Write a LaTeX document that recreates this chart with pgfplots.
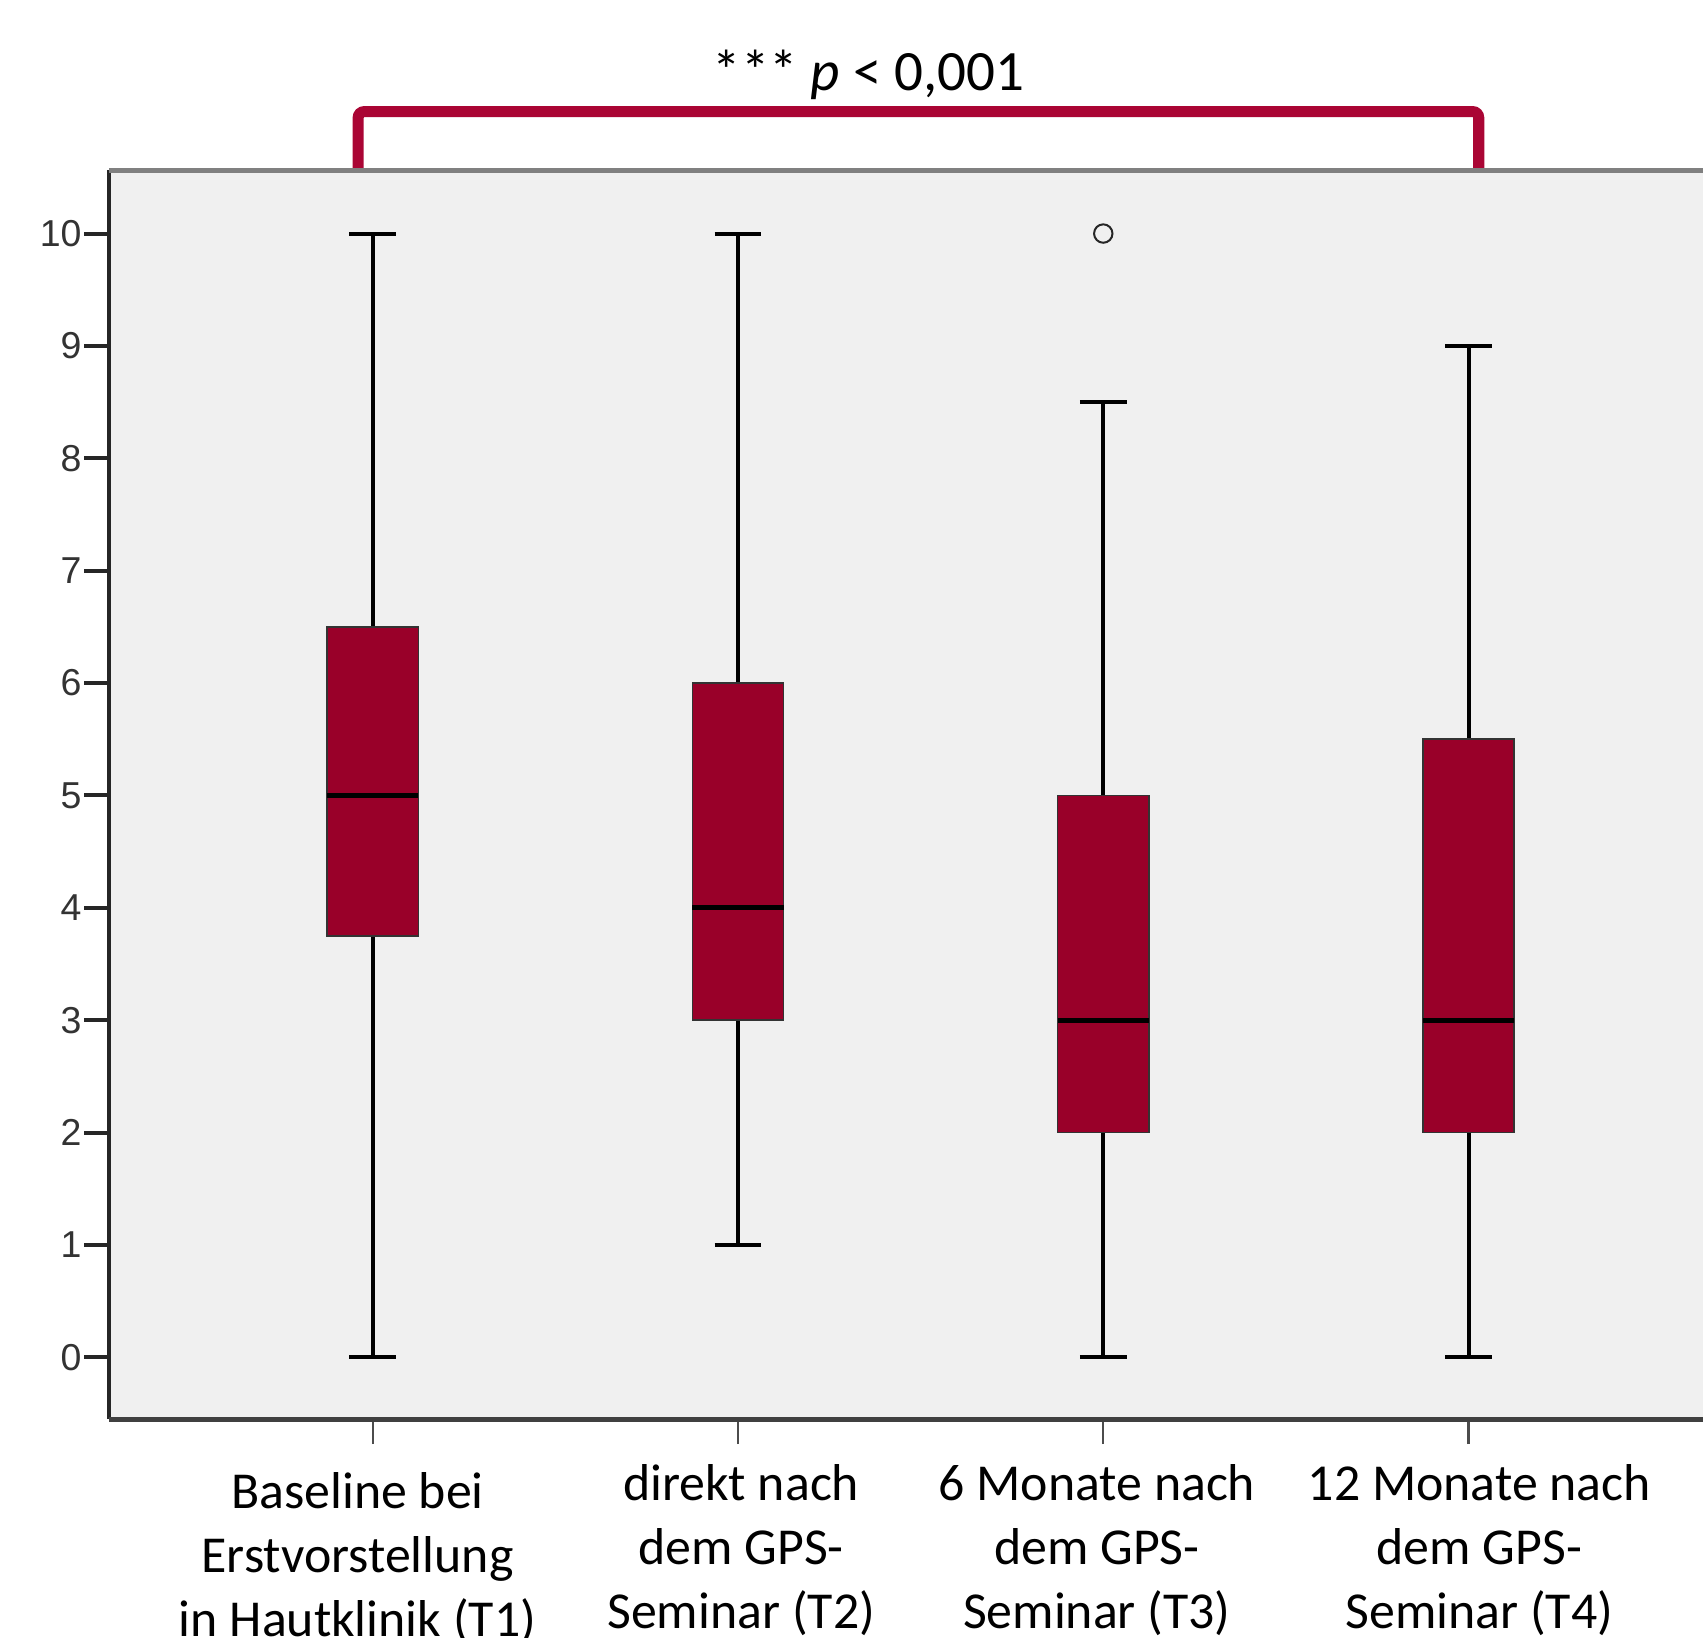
\documentclass[border=0pt]{standalone}
\usepackage{fontspec}
\setmainfont{Carlito}
\newfontfamily\arialf{Liberation Sans}
\usepackage{pgfplots}
\pgfplotsset{compat=1.18}
\usepgfplotslibrary{statistics}
\definecolor{boxred}{RGB}{153,0,41}
\definecolor{brk}{RGB}{170,5,52}
\definecolor{bgc}{RGB}{240,240,240}
\begin{document}
\begin{tikzpicture}
\begin{axis}[
  at={(0,0)}, anchor=south west,
  scale only axis,
  width=398.25bp, height=312bp,
  xmin=0.278, xmax=4.642,
  ymin=-0.551, ymax=10.561,
  clip=false,
  axis line style={draw=none},
  axis background/.style={fill=bgc},
  tick align=outside,
  tick pos=left,
  major tick length=6.2bp,
  ytick={0,1,...,10},
  xtick={1,2,3,4},
  xticklabels={{Baseline bei\\Erstvorstellung\\in Hautklinik (T1)},{direkt nach\\dem GPS-\\Seminar (T2)},{6 Monate nach\\dem GPS-\\Seminar (T3)},{12 Monate nach\\dem GPS-\\Seminar (T4)}},
  xticklabel style={align=center, font=\fontsize{13}{16}\selectfont, inner sep=0pt, anchor=north,
    yshift={-5.5bp-1.5bp*(\ticknum==0)+0.5bp*(\ticknum>0)},
    xshift={-3.8bp*(\ticknum==0)+0.8bp*(\ticknum==1)-1.6bp*(\ticknum==2)+2.7bp*(\ticknum==3)}},
  yticklabel style={font=\arialf\fontsize{9.4}{11}\selectfont, text=black!80, inner sep=0pt, anchor=east, xshift=-0.5bp},
  /pgf/number format/assume math mode=true,
  ytick style={line width=1bp, black!85},
  xtick style={line width=0.6bp, black!70},
  boxplot/draw direction=y,
  boxplot/box extend=0.25,
  boxplot/whisker extend=0.128,
  boxplot/every box/.style={draw=black!80, line width=0.4bp, fill=boxred},
  boxplot/every median/.style={draw=black, line width=1.3bp},
  boxplot/every whisker/.style={draw=black, line width=1bp},
]
\addplot[boxplot prepared={lower whisker=0, lower quartile=3.75, median=5, upper quartile=6.5, upper whisker=10, draw position=1}, draw=black] coordinates {};
\addplot[boxplot prepared={lower whisker=1, lower quartile=3, median=4, upper quartile=6, upper whisker=10, draw position=2}, draw=black] coordinates {};
\addplot[boxplot prepared={lower whisker=0, lower quartile=2, median=3, upper quartile=5, upper whisker=8.5, draw position=3}, draw=black, mark=o, mark size=2.3bp, mark options={draw=black!85, line width=0.5bp}] coordinates {(0,10)};
\addplot[boxplot prepared={lower whisker=0, lower quartile=2, median=3, upper quartile=5.5, upper whisker=9, draw position=4}, draw=black] coordinates {};
% frame
\draw[line width=1bp, black!85] (rel axis cs:0,0) -- (rel axis cs:0,1);
\draw[line width=1.3bp, black!75] (rel axis cs:0,0) -- (rel axis cs:1,0);
% bracket
\draw[brk, line width=2.75bp, rounded corners=1.5bp] (axis cs:0.96,10.56) -- (axis cs:0.96,11.085) -- (axis cs:4.028,11.085) -- (axis cs:4.028,10.56);
\draw[line width=1.3bp, black!50] (rel axis cs:0,1) -- (rel axis cs:1,1);
\node[anchor=base, font=\fontsize{14.3}{17}\selectfont] at (axis cs:2.357,11.277) {*** \textit{p} < 0,001};
\end{axis}
\pgfresetboundingbox
\path[use as bounding box] (-27.25bp,-54.6bp) rectangle (398.25bp,354.6bp);
\end{tikzpicture}
\end{document}
